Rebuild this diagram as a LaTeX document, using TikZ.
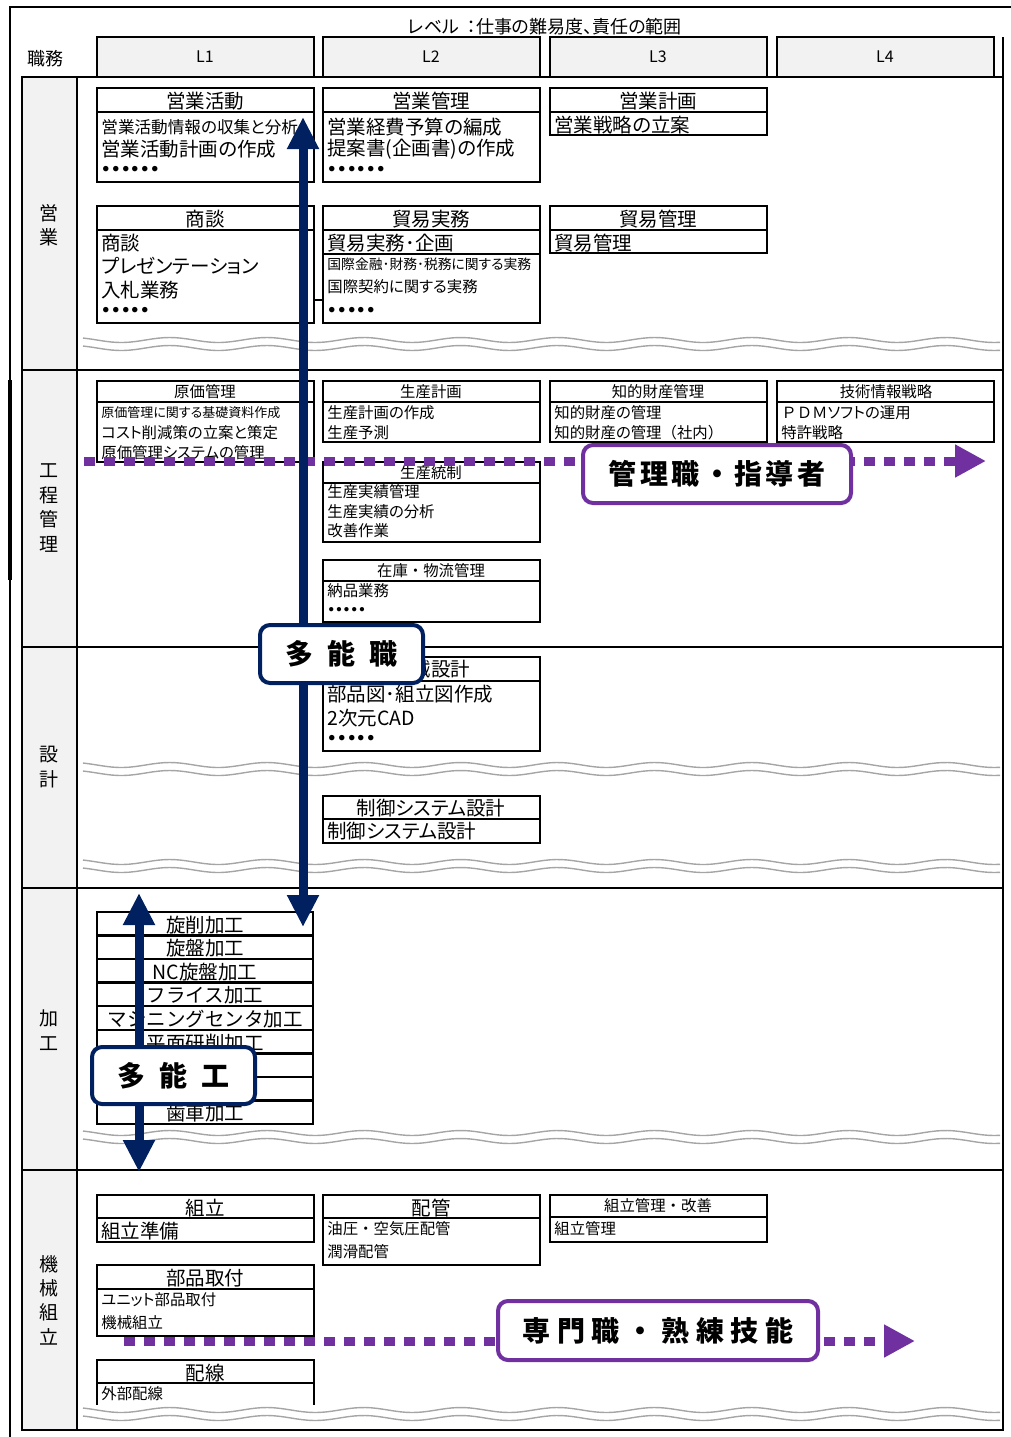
\documentclass[tikz,border=0pt]{standalone}
\usepackage{fontspec}
\setmainfont{Noto Sans CJK JP}[RawFeature=+palt]
\newfontfamily\fixjp{Noto Sans CJK JP}
\usepackage{tikz}
\usetikzlibrary{arrows.meta}
\tikzset{>=latex}
\definecolor{darknavy}{RGB}{0,32,96}
\definecolor{skillpurple}{RGB}{112,48,160}
\definecolor{cellgray}{RGB}{242,242,242}
\definecolor{wavegray}{RGB}{165,165,165}
\newcommand{\fbig}{\fontsize{9.75}{11}\selectfont}
\newcommand{\fmid}{\fontsize{7.7}{9}\selectfont}
\newcommand{\fsml}{\fontsize{6.5}{8}\selectfont}
\newcommand{\dotsix}{{\bfseries ・・・・・・}}
\newcommand{\dotfive}{{\bfseries ・・・・・}}

\begin{document}
\begin{tikzpicture}[x=0.5pt, y=-0.5pt,
    frame/.style={line width=1pt},
    jobbox/.style={draw, line width=1.2pt},
    ttl/.style={inner sep=0pt, font=\fbig},
    ttlmid/.style={inner sep=0pt, font=\fmid},
    itm/.style={anchor=west, inner sep=0pt, font=\fbig},
    itmmid/.style={anchor=west, inner sep=0pt, font=\fmid},
    rowlbl/.style={inner sep=0pt, align=center, font=\fontsize{9.5}{12.2}\selectfont},
    wave/.style={wavegray, line width=0.7pt},
    ddarrow/.style={darknavy, line width=4.5pt, {Triangle[length=16pt,width=15pt]}-{Triangle[length=16pt,width=15pt]}},
    dotline/.style={skillpurple, line width=4.5pt, dash pattern=on 5.5pt off 4.5pt, -{Triangle[length=15.5pt,width=15.5pt]}},
    navylbl/.style={draw=darknavy, line width=2pt, fill=white, rounded corners=5pt, inner sep=0pt, font=\fixjp\bfseries\fontsize{14}{16}\selectfont},
    purplelbl/.style={draw=skillpurple, line width=2pt, fill=white, rounded corners=5pt, inner sep=0pt, font=\fixjp\bfseries\fontsize{14}{16}\selectfont}]
  \useasboundingbox (0,0) rectangle (1011,1437);
  % outer frame
  \draw[frame] (10,1437) -- (10,7) -- (1011,7);
  \draw[line width=2pt] (10,380) -- (10,580);
  % header
  \node[font=\fontsize{9}{10}\selectfont] (level) at (545,27) {レベル\ \ ：仕事の難易度、責任の範囲};
  \node[font=\fontsize{9}{10}\selectfont] (shokumu) at (45,59) {職務};
  \foreach \hx/\hl in {97/L1,323/L2,550/L3,777/L4} {
    \draw[frame, fill=cellgray] (\hx,37) rectangle (\hx+217,77);
    \node[font=\fontsize{8}{9}\selectfont] (head\hl) at (\hx+108,57) {\hl};
  }
  % table and row labels
  \fill[cellgray] (22,77) rectangle (77,1430);
  \draw[frame] (22,77) rectangle (1003,1430);
  \draw[frame] (1003,37) -- (1003,77);
  \draw[frame] (77,77) -- (77,1430);
  \foreach \ry in {370,647,888,1170}
    \draw[frame] (22,\ry) -- (1003,\ry);
  \node[rowlbl] (eigyo) at (49,225) {営\\業};
  \node[rowlbl] (kotei) at (49,508) {工\\程\\管\\理};
  \node[rowlbl] (sekkei) at (49,767) {設\\計};
  \node[rowlbl] (kako) at (49,1030) {加\\工};
  \node[rowlbl] (kumitate) at (49,1300) {機\\械\\組\\立};
  % wavy breaks
  \foreach \wy in {340,765,862,1133,1410} {
    \draw[wave] plot[domain=83:1000, samples=160] (\x, {\wy+2.5*sin(\x/97*360)});
    \draw[wave] plot[domain=83:1000, samples=160] (\x, {\wy+8+2.5*sin(\x/97*360)});
  }
  % job boxes: left / top / title line / bottom
  \foreach \bx/\bt/\bl/\bb in {97/88/112/182, 323/88/112/182, 550/88/112/135,
      97/206/230/323, 323/206/230/323, 550/206/230/253,
      97/381/402/462, 323/381/402/442, 550/381/402/442, 777/381/402/442,
      323/462/483/542, 323/560/581/622, 323/657/681/751, 323/796/819/843,
      97/1195/1218/1242, 323/1195/1218/1265, 550/1195/1217/1242, 97/1265/1289/1336} {
    \draw[jobbox] (\bx,\bt) rectangle (\bx+217,\bb);
    \draw[jobbox] (\bx,\bl) -- (\bx+217,\bl);
  }
  \draw[jobbox] (323,254) -- (540,254);
  \draw[jobbox] (313,300) -- (323,300);
  \draw[jobbox] (97,1405) -- (97,1360) -- (314,1360) -- (314,1405);
  \draw[jobbox] (97,1383) -- (314,1383);
  % eigyo
  \node[ttl] (eigyokatsudo) at (205,101) {営業活動};
  \node[itm, font=\fontsize{8.3}{10}\selectfont] (ek1) at (101,127) {営業活動情報の収集と分析};
  \node[itm] (ek2) at (101,149) {営業活動計画の作成};
  \node[itm] (ek3) at (101,171) {\dotsix};
  \node[ttl] (eigyokanri) at (431,101) {営業管理};
  \node[itm] (ekn1) at (327,127) {営業経費予算の編成};
  \node[itm] (ekn2) at (327,149) {提案書(企画書)の作成};
  \node[itm] (ekn3) at (327,171) {\dotsix};
  \node[ttl] (eigyokeikaku) at (658,101) {営業計画};
  \node[itm] (ekk1) at (554,125) {営業戦略の立案};
  \node[ttl] (shodan) at (205,219) {商談};
  \node[itm] (sd1) at (101,243) {商談};
  \node[itm] (sd2) at (101,266) {プレゼンテーション};
  \node[itm] (sd3) at (101,290) {入札業務};
  \node[itm] (sd4) at (101,312) {\dotfive};
  \node[ttl] (boeki) at (431,219) {貿易実務};
  \node[itm] (bj1) at (327,243) {貿易実務･企画};
  \node[itm, font=\fontsize{6.9}{8}\selectfont] (bj2) at (327,264) {国際金融･財務･税務に関する実務};
  \node[itmmid] (bj3) at (327,287) {国際契約に関する実務};
  \node[itm] (bj4) at (327,312) {\dotfive};
  \node[ttl] (boekikanri) at (658,219) {貿易管理};
  \node[itm] (bk1) at (554,243) {貿易管理};
  % kotei kanri
  \node[ttlmid] (genka) at (205,392) {原価管理};
  \node[itm, font=\fsml] (gk1) at (101,413) {原価管理に関する基礎資料作成};
  \node[itmmid] (gk2) at (101,433) {コスト削減策の立案と策定};
  \node[itmmid] (gk3) at (101,453) {原価管理システムの管理};
  \node[ttlmid] (seisankeikaku) at (431,392) {生産計画};
  \node[itmmid] (sk1) at (327,413) {生産計画の作成};
  \node[itmmid] (sk2) at (327,433) {生産予測};
  \node[ttlmid] (chizai) at (658,392) {知的財産管理};
  \node[itmmid] (cz1) at (554,413) {知的財産の管理};
  \node[itmmid] (cz2) at (554,433) {知的財産の管理{\fixjp（社内）}};
  \node[ttlmid] (gijutsu) at (886,392) {技術情報戦略};
  \node[itmmid] (gj1) at (781,413) {{\fixjp ＰＤＭ}ソフトの運用};
  \node[itmmid] (gj2) at (781,433) {特許戦略};
  \node[ttlmid] (tosei) at (431,473) {生産統制};
  \node[itmmid] (ts1) at (327,492) {生産実績管理};
  \node[itmmid] (ts2) at (327,512) {生産実績の分析};
  \node[itmmid] (ts3) at (327,531) {改善作業};
  \node[ttlmid, font=\fixjp\fmid] (zaiko) at (431,571) {在庫・物流管理};
  \node[itmmid] (zk1) at (327,591) {納品業務};
  \node[itmmid] (zk2) at (327,611) {\dotfive};
  % sekkei
  \node[ttl] (kikaisekkei) at (431,669) {機械設計};
  \node[itm] (ks1) at (327,694) {部品図･組立図作成};
  \node[itm] (ks2) at (327,718) {2次元CAD};
  \node[itm] (ks3) at (327,740) {\dotfive};
  \node[ttl] (seigyo) at (431,808) {制御システム設計};
  \node[itm] (sg1) at (327,831) {制御システム設計};
  % kako list
  \foreach \kname [count=\rw from 0] in {旋削加工,旋盤加工,NC旋盤加工,フライス加工,マシニングセンタ加工,平面研削加工,{},{},歯車加工} {
    \draw[jobbox] (97,912+23.56*\rw) rectangle (313,935.56+23.56*\rw);
    \node[ttl, font=\fixjp\fbig] (kako\rw) at (205,925+23.56*\rw) {\kname};
  }
  % kikai kumitate
  \node[ttl] (kumi) at (205,1208) {組立};
  \node[itm] (km1) at (101,1231) {組立準備};
  \node[ttl] (haikan) at (431,1208) {配管};
  \node[itmmid, font=\fixjp\fmid] (hk1) at (327,1229) {油圧・空気圧配管};
  \node[itmmid] (hk2) at (327,1252) {潤滑配管};
  \node[ttlmid, font=\fixjp\fmid] (kumikanri) at (658,1206) {組立管理・改善};
  \node[itmmid] (kk1) at (554,1229) {組立管理};
  \node[ttl] (buhin) at (205,1278) {部品取付};
  \node[itmmid] (bh1) at (101,1300) {ユニット部品取付};
  \node[itmmid] (bh2) at (101,1323) {機械組立};
  \node[ttl] (haisen) at (205,1373) {配線};
  \node[itmmid] (hs1) at (101,1394) {外部配線};
  % purple dotted arrows
  \coordinate (mgrStart) at (84,461);
  \coordinate (mgrEnd) at (986,461);
  \draw[dotline] (mgrStart) -- (mgrEnd);
  \coordinate (proStart) at (124,1341);
  \coordinate (proEnd) at (915,1341);
  \draw[dotline] (proStart) -- (proEnd);
  % navy double arrows
  \coordinate (multiTop) at (303,117);
  \coordinate (multiBot) at (303,927);
  \draw[ddarrow] (multiTop) -- (multiBot);
  \coordinate (workTop) at (139,893);
  \coordinate (workBot) at (139,1172);
  \draw[ddarrow] (workTop) -- (workBot);
  % labels
  \node[navylbl, minimum width=81.5pt, minimum height=29pt] (tanoshoku) at (341.5,654) {多\hspace{.5em}能\hspace{.5em}職};
  \node[navylbl, minimum width=81.5pt, minimum height=28.5pt] (tanoko) at (173.5,1075.5) {多\hspace{.5em}能\hspace{.5em}工};
  \node[purplelbl, minimum width=134pt, minimum height=29pt] (kanrishoku) at (717,474) {\addfontfeature{LetterSpace=12}管理職・指導者};
  \node[purplelbl, minimum width=160pt, minimum height=29.5pt] (senmonshoku) at (658,1330.5) {\addfontfeature{LetterSpace=24}専門職・熟練技能};
\end{tikzpicture}
\end{document}
